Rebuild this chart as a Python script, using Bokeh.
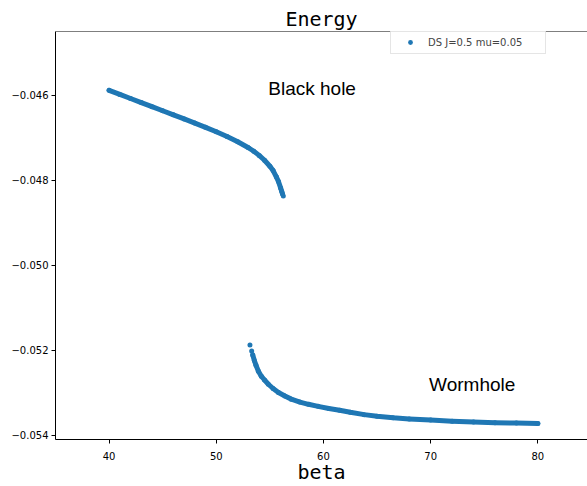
from bokeh.plotting import figure
from bokeh.models import (Range1d, FixedTicker, CustomJSTickFormatter,
                          Legend, LegendItem, Label, Span)
from bokeh.embed import file_html
from bokeh.resources import INLINE

# ---- data ----
bh_beta = [40.0, 41.0, 42.0, 43.0, 44.0, 45.0, 46.0, 47.0, 48.0, 49.0, 50.0,
           51.0, 52.0, 53.0, 53.5, 54.0, 54.5, 55.0, 55.3, 55.6, 55.8, 56.0,
           56.1, 56.18]
bh_energy = [-0.045884, -0.045980, -0.046076, -0.046172, -0.046268, -0.046364,
             -0.046460, -0.046557, -0.046655, -0.046755, -0.046860, -0.046972,
             -0.047095, -0.047235, -0.047318, -0.047415, -0.047530, -0.047670,
             -0.047772, -0.047920, -0.048030, -0.048180, -0.048260, -0.048325]
bh_tip_beta = [56.25]
bh_tip_energy = [-0.048372]

wh_tip_beta = [53.14, 53.30]
wh_tip_energy = [-0.051877, -0.052016]
wh_beta = [53.40, 53.55, 53.70, 53.93, 54.2, 54.5, 54.86, 55.3, 55.8, 56.4,
           57.0, 57.8, 58.6, 59.5, 60.5, 61.5, 62.5, 63.8, 65.0, 66.5, 68.0,
           70.0, 72.0, 74.0, 76.0, 78.0, 80.0]
wh_energy = [-0.052110, -0.052240, -0.052350, -0.052495, -0.052610, -0.052700,
             -0.052800, -0.052900, -0.052995, -0.053077, -0.053150, -0.053220,
             -0.053272, -0.053320, -0.053370, -0.053410, -0.053460, -0.053515,
             -0.053555, -0.053590, -0.053615, -0.053644, -0.053668, -0.053688,
             -0.053703, -0.053713, -0.053722]

x_ticks = [40, 50, 60, 70, 80]
y_ticks = [-0.054, -0.052, -0.050, -0.048, -0.046]
series_label = "DS J=0.5 mu=0.05"
title_text = "Energy"
x_label = "beta"
note_text = ["Black hole", "Wormhole"]
note_x = [54.85, 69.85]
note_y = [-0.04583, -0.05280]

BLUE = "#1f77b4"
Y_TOP = -0.0445

p = figure(width=587, height=486, output_backend="svg", toolbar_location=None,
           x_range=Range1d(35, 84.63), y_range=Range1d(-0.0541, Y_TOP),
           min_border_left=55, min_border_right=0, min_border_top=31,
           min_border_bottom=45)
p.outline_line_color = None
p.grid.visible = False
p.background_fill_color = "white"

p.title.text = title_text
p.title.align = "center"
p.title.text_font = "DejaVu Sans Mono"
p.title.text_font_size = "20px"
p.title.text_font_style = "normal"
p.title.text_color = "black"
p.title.standoff = 2

xa = p.below[0]
ya = p.left[0]

# top spine
p.add_layout(Span(location=Y_TOP, dimension="width", line_color="black",
                  line_width=1))

xa.ticker = FixedTicker(ticks=x_ticks)
xa.axis_label = x_label
xa.axis_label_text_font = "DejaVu Sans Mono"
xa.axis_label_text_font_size = "20px"
xa.axis_label_text_font_style = "normal"
xa.axis_label_text_color = "black"
xa.axis_label_standoff = -3

ya.ticker = FixedTicker(ticks=y_ticks)
ya.formatter = CustomJSTickFormatter(
    code="return (tick < 0 ? '\u2212' : '') + Math.abs(tick).toFixed(3);")

for ax in (xa, ya):
    ax.axis_line_color = "black"
    ax.major_tick_line_color = "black"
    ax.major_tick_out = 4
    ax.major_tick_in = 0
    ax.minor_tick_out = 0
    ax.minor_tick_in = 0
    ax.major_label_text_font = "DejaVu Sans"
    ax.major_label_text_font_size = "10px"
    ax.major_label_text_color = "black"
    ax.major_label_standoff = 3
xa.major_label_standoff = 8

# branches
p.line(bh_beta, bh_energy, line_color=BLUE, line_width=5, line_cap="round",
       line_join="round")
p.line(wh_beta, wh_energy, line_color=BLUE, line_width=5, line_cap="round",
       line_join="round")
dots = p.scatter(bh_beta + bh_tip_beta + wh_tip_beta + wh_beta,
                 bh_energy + bh_tip_energy + wh_tip_energy + wh_energy,
                 size=5, fill_color=BLUE, line_color=BLUE, line_width=0)

legend = Legend(items=[LegendItem(label=series_label, renderers=[dots])],
                location=(335, 385), margin=0, padding=5, spacing=0,
                glyph_width=28, glyph_height=12, label_standoff=4,
                label_width=112,
                label_text_font="DejaVu Sans", label_text_font_size="10px",
                label_height=12,
                border_line_color="#cccccc", border_line_width=1,
                background_fill_alpha=0.8)
p.add_layout(legend, "center")

for t, x, y in zip(note_text, note_x, note_y):
    p.add_layout(Label(x=x, y=y, text=t, text_font="Liberation Sans",
                       text_font_size="19px", text_color="black",
                       text_baseline="alphabetic", text_align="left"))

open("out.html", "w").write(file_html(p, INLINE))
